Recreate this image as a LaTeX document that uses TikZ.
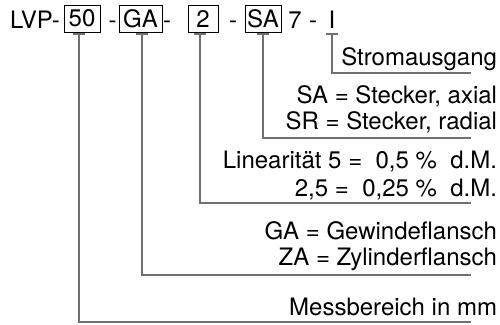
\documentclass[tikz,border=0pt]{standalone}
\usepackage{fontspec}
\setmainfont{TeX Gyre Heros}
\definecolor{leadgray}{RGB}{112,112,112}
\begin{document}
\begin{tikzpicture}[x=1pt,y=-1pt,
  txt/.style={font=\fontsize{24}{24}\selectfont, inner sep=0pt, outer sep=0pt},
  lbl/.style={txt, anchor=base east},
  chr/.style={txt, anchor=base},
  cbox/.style={txt, draw=black, line width=0.8pt, minimum height=27pt, anchor=center},
  lead/.style={draw=leadgray, line width=1.8pt},
  tbar/.style={draw=leadgray, line width=1.8pt}]
\useasboundingbox (0,0) rectangle (500,324);
% top code row
\node[txt, anchor=base west] (lvp) at (10,28) {LVP-};
\node[cbox, minimum width=36pt] (b50) at (82,18.5) {50};
\node[chr] (h1) at (112.5,28) {-};
\node[cbox, minimum width=43pt] (bga) at (140.5,18.5) {GA};
\node[chr] (h2) at (167,28) {-};
\node[cbox, minimum width=30pt] (b2) at (203,18.5) {2};
\node[chr] (h3) at (233,28) {-};
\node[cbox, minimum width=36pt] (bsa) at (263,18.5) {SA};
\node[chr] (n7) at (295,28) {7};
\node[chr] (h4) at (313,28) {-};
\node[chr] (nI) at (332,28) {I};
% labels
\node[lbl] (strom) at (497,65) {Stromausgang};
\node[lbl] (sa) at (497,103) {SA = Stecker, axial};
\node[lbl] (sr) at (497,129) {SR = Stecker, radial};
\node[lbl] (lin1) at (497,168) {Linearität 5 =\ \ 0,5 \%\ \ d.M.};
\node[lbl] (lin2) at (497,196) {2,5 =\ \ 0,25 \%\ \ d.M.};
\node[lbl] (ga) at (497,239) {GA = Gewindeflansch};
\node[lbl] (za) at (497,265) {ZA = Zylinderflansch};
\node[lbl] (mess) at (497,315) {Messbereich in mm};
% leader coordinates
\coordinate (tI) at (332,34);   \coordinate (eI) at (471,73);
\coordinate (tSA) at (263,34);  \coordinate (eSA) at (471,138);
\coordinate (t2) at (200,34);   \coordinate (e2) at (471,203);
\coordinate (tGA) at (142,34);  \coordinate (eGA) at (471,275);
\coordinate (t50) at (79,34);   \coordinate (e50) at (471,322);
% leaders
\foreach \n in {I,SA,2,GA,50}{
  \draw[lead] (t\n) |- (e\n);
  \draw[tbar] ([xshift=-6pt]t\n) -- ([xshift=6pt]t\n);
}
\end{tikzpicture}
\end{document}
